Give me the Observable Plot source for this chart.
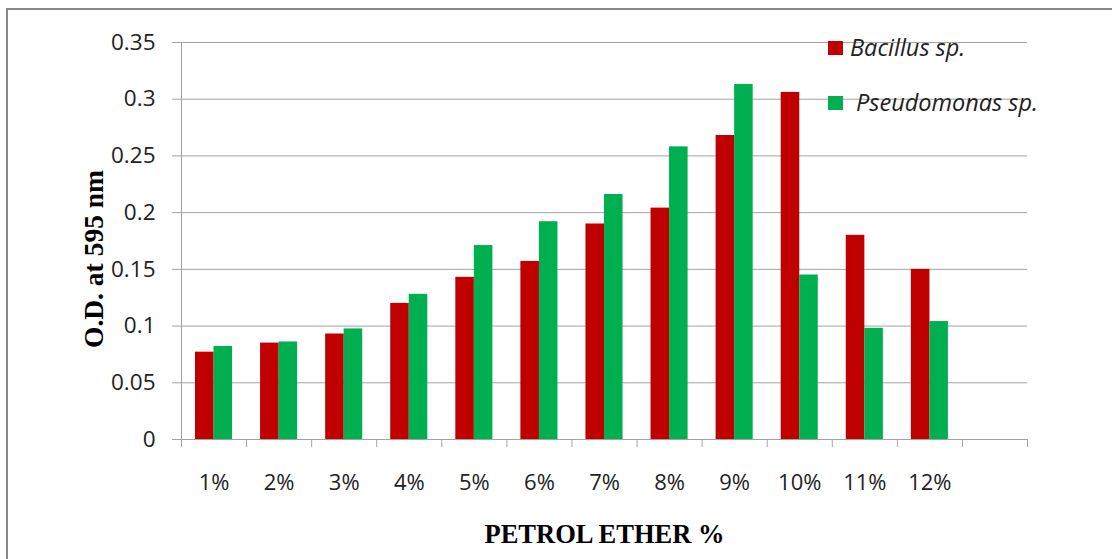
<!DOCTYPE html>
<html>
<head>
<meta charset="utf-8">
<script src="https://cdn.jsdelivr.net/npm/d3@7"></script>
<script src="https://cdn.jsdelivr.net/npm/@observablehq/plot@0.6"></script>
<style>
  html, body { margin: 0; padding: 0; background: #fff; }
  #wrap { position: relative; width: 1112px; height: 559px; overflow: hidden; background: #fff; }
  #border { position: absolute; left: 6px; top: 8px; width: 1200px; height: 700px; border: 2px solid #898989; box-sizing: border-box; }
  #chart { position: absolute; left: 0; top: 0; }
  .legend { position: absolute; font-family: "Open Sans", Lato, sans-serif; font-style: italic; font-size: 23.5px; line-height: 32px; color: #222; }
  .legend .sw { display: inline-block; width: 15px; height: 14px; position: absolute; left: 0; top: 0; }
  .legend .lbl { position: absolute; white-space: nowrap; }
</style>
</head>
<body>
<div id="wrap">
  <div id="border"></div>
  <div id="chart"></div>
  <div id="legend"></div>
</div>
<script>
// ---- data ----
const categories = ["1%", "2%", "3%", "4%", "5%", "6%", "7%", "8%", "9%", "10%", "11%", "12%"];
const bacillus    = [0.077, 0.085, 0.093, 0.120, 0.143, 0.157, 0.190, 0.204, 0.268, 0.306, 0.180, 0.150];
const pseudomonas = [0.082, 0.086, 0.0975, 0.128, 0.171, 0.192, 0.216, 0.258, 0.313, 0.145, 0.098, 0.104];
const seriesNames = ["Bacillus sp.", "Pseudomonas sp."];
const seriesColors = ["#C00000", "#00B050"];
const yTicks = [0, 0.05, 0.1, 0.15, 0.2, 0.25, 0.3, 0.35];
const slotCount = categories.length + 1; // chart keeps one empty slot at the right
const yLabel = "O.D. at 595 nm";
const xLabel = "PETROL ETHER %";

// ---- table ----
const rowsB = categories.map((c, i) => ({cat: c, idx: i, value: bacillus[i], series: seriesNames[0]}));
const rowsP = categories.map((c, i) => ({cat: c, idx: i, value: pseudomonas[i], series: seriesNames[1]}));

const grid = "#a3a3a3";
const tickFont = "'Open Sans', Lato, sans-serif";
const titleFont = "'Liberation Serif', 'DejaVu Serif', serif";

const chart = Plot.plot({
  width: 1112,
  height: 559,
  marginLeft: 181,
  marginRight: 85,
  marginTop: 42,
  marginBottom: 120,
  style: {background: "transparent", overflow: "visible"},
  x: {type: "linear", domain: [0, slotCount]},
  y: {domain: [0, 0.35]},
  marks: [
    // horizontal gridlines (with outward tick on the left)
    Plot.ruleY(yTicks, {stroke: grid, strokeWidth: 1}),
    Plot.axisY({
      ticks: yTicks,
      tickSize: 9,
      tickPadding: 17,
      stroke: grid,
      strokeOpacity: 1,
      tickFormat: d => String(+d.toFixed(2)),
      fontSize: 22.5,
      fontFamily: tickFont,
      fill: "#222",
      label: null
    }),
    // vertical axis line
    Plot.ruleX([0], {y1: 0, y2: 0.35, stroke: grid}),
    // category boundary ticks
    Plot.axisX({
      ticks: d3.range(slotCount + 1),
      tickSize: 8,
      stroke: grid,
      strokeOpacity: 1,
      tickFormat: () => "",
      label: null
    }),
    // category labels at slot centres
    Plot.axisX({
      ticks: d3.range(categories.length).map(i => i + 0.5),
      tickSize: 0,
      tickPadding: 35,
      tickFormat: d => categories[Math.floor(d)],
      fontSize: 22,
      fontFamily: tickFont,
      fill: "#222",
      label: null
    }),
    // bars
    Plot.rectY(rowsB, {x1: "idx", x2: d => d.idx + 1, y: "value", fill: seriesColors[0], insetLeft: 14, insetRight: 32.5}),
    Plot.rectY(rowsP, {x1: "idx", x2: d => d.idx + 1, y: "value", fill: seriesColors[1], insetLeft: 32.5, insetRight: 14}),
    // baseline
    Plot.ruleY([0], {stroke: grid}),
    // axis titles
    Plot.text([xLabel], {
      frameAnchor: "bottom", dy: 103, text: d => d, textAnchor: "middle",
      fontFamily: titleFont, fontWeight: "bold", fontSize: 26.5, fill: "#000",
      lineAnchor: "bottom"
    }),
    Plot.text([yLabel], {
      frameAnchor: "left", dx: -87, dy: 18, rotate: -90, text: d => d, textAnchor: "middle",
      fontFamily: titleFont, fontWeight: "bold", fontSize: 27.5, fill: "#000",
      lineAnchor: "middle"
    })
  ]
});
document.getElementById("chart").appendChild(chart);

// ---- legend (drawn on top of the plot, like the original) ----
const legend = document.getElementById("legend");
const legendPos = [{left: 828, top: 41, textLeft: 22, textTop: -10}, {left: 828, top: 96, textLeft: 28, textTop: -10}];
seriesNames.forEach((name, i) => {
  const item = document.createElement("div");
  item.className = "legend";
  item.style.left = legendPos[i].left + "px";
  item.style.top = legendPos[i].top + "px";
  const sw = document.createElement("span");
  sw.className = "sw";
  sw.style.background = seriesColors[i];
  const lbl = document.createElement("span");
  lbl.className = "lbl";
  lbl.style.left = legendPos[i].textLeft + "px";
  lbl.style.top = legendPos[i].textTop + "px";
  lbl.textContent = name;
  item.appendChild(sw);
  item.appendChild(lbl);
  legend.appendChild(item);
});
</script>
</body>
</html>
